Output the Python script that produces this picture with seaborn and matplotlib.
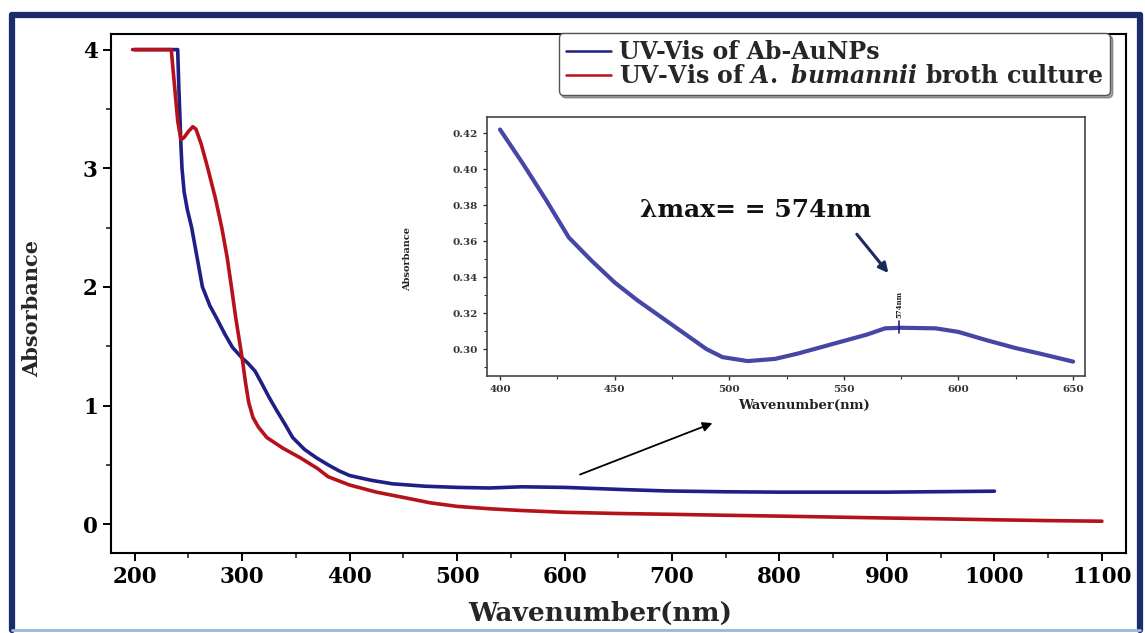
import numpy as np
import pandas as pd
import seaborn as sns
import matplotlib.pyplot as plt
from matplotlib.lines import Line2D
from matplotlib.ticker import MultipleLocator

# UV-Vis of Ab-AuNPs (blue)
aunp_nm = [200, 238, 240, 241, 243, 244, 246, 249, 253, 258, 263, 270, 276, 284, 291, 300,
           305, 312, 318, 325, 332, 340, 347, 358, 369, 380, 390, 400, 420, 440, 470, 500,
           530, 560, 600, 630, 660, 695, 750, 800, 850, 900, 950, 1000]
aunp_abs = [4.0, 4.0, 4.0, 3.7, 3.2, 3.0, 2.8, 2.65, 2.5, 2.25, 2.0, 1.84, 1.74, 1.6, 1.49, 1.40,
            1.36, 1.29, 1.19, 1.07, 0.96, 0.84, 0.73, 0.63, 0.56, 0.50, 0.45, 0.41, 0.37, 0.34, 0.32, 0.31,
            0.305, 0.315, 0.31, 0.30, 0.29, 0.28, 0.273, 0.27, 0.27, 0.27, 0.274, 0.278]

# UV-Vis of A. bumannii broth culture (red)
broth_nm = [198, 234, 236, 238, 240, 243, 246, 250, 254, 257, 262, 268, 275, 281, 286, 290,
            294, 297, 300, 303, 306, 310, 315, 323, 338, 354, 370, 380, 400, 425, 453, 475, 500,
            530, 560, 600, 650, 700, 750, 800, 850, 900, 950, 1000, 1050, 1100]
broth_abs = [4.0, 4.0, 3.8, 3.6, 3.4, 3.24, 3.26, 3.31, 3.35, 3.33, 3.2, 3.0, 2.75, 2.5, 2.25, 2.0,
             1.74, 1.57, 1.40, 1.20, 1.03, 0.90, 0.82, 0.73, 0.64, 0.56, 0.47, 0.40, 0.33, 0.27, 0.22, 0.18, 0.15,
             0.13, 0.115, 0.10, 0.09, 0.083, 0.075, 0.068, 0.06, 0.052, 0.045, 0.037, 0.03, 0.025]

# inset: Ab-AuNPs, 400-650 nm
inset_nm = [400, 410, 420, 430, 440, 450, 460, 470, 480, 490, 497, 508, 520, 530, 540, 550,
            560, 568, 575, 590, 600, 612, 625, 637, 650]
inset_abs = [0.422, 0.403, 0.383, 0.362, 0.349, 0.337, 0.327, 0.318, 0.309, 0.300, 0.2955, 0.2933,
             0.2945, 0.2975, 0.301, 0.3045, 0.308, 0.3115, 0.3118, 0.3115, 0.3095, 0.305, 0.3005,
             0.297, 0.293]
lam_max = 574

main_x_ticks = [200, 300, 400, 500, 600, 700, 800, 900, 1000, 1100]
main_y_ticks = [0, 1, 2, 3, 4]
inset_x_ticks = [400, 450, 500, 550, 600, 650]
inset_y_ticks = [0.30, 0.32, 0.34, 0.36, 0.38, 0.40, 0.42]

BLUE = "#1f1f85"
RED = "#b5121b"
INSET_BLUE = "#4646a6"

sns.set_style("ticks")
plt.rcParams["font.family"] = ["DejaVu Serif"]
plt.rcParams["font.weight"] = "bold"
plt.rcParams["axes.labelweight"] = "bold"
plt.rcParams["mathtext.fontset"] = "custom"
plt.rcParams["mathtext.rm"] = "DejaVu Serif:bold"
plt.rcParams["mathtext.it"] = "DejaVu Serif:italic:bold"

df_aunp = pd.DataFrame({"nm": aunp_nm, "abs": aunp_abs})
df_broth = pd.DataFrame({"nm": broth_nm, "abs": broth_abs})
df_inset = pd.DataFrame({"nm": inset_nm, "abs": inset_abs})

fig = plt.figure(figsize=(11.45, 6.33), dpi=100)
ax = fig.add_axes([0.097, 0.126, 0.886, 0.820])

sns.lineplot(data=df_aunp, x="nm", y="abs", ax=ax, color=BLUE, lw=2.6, sort=False,
             estimator=None, label="UV-Vis of Ab-AuNPs")
sns.lineplot(data=df_broth, x="nm", y="abs", ax=ax, color=RED, lw=2.6, sort=False,
             estimator=None, label=r"UV-Vis of $\mathit{A.}$ $\mathit{bumannii}$ broth culture")

ax.set_xlim(178, 1122)
ax.set_ylim(-0.245, 4.13)
ax.set_xticks(main_x_ticks)
ax.set_yticks(main_y_ticks)
ax.xaxis.set_minor_locator(MultipleLocator(50))
ax.yaxis.set_minor_locator(MultipleLocator(0.5))
ax.tick_params(which="major", direction="out", length=6, width=1.4, labelsize=15.5, colors="black")
ax.tick_params(which="minor", direction="out", length=3.5, width=1.2)
for s in ax.spines.values():
    s.set_linewidth(1.5)
    s.set_color("black")

ax.set_xlabel("Wavenumber(nm)", fontsize=19, fontweight="bold")
ax.xaxis.set_label_coords(0.482, -0.092)
ax.set_ylabel("Absorbance", fontsize=15, fontweight="bold")
ax.yaxis.set_label_coords(-0.068, 0.472)

leg = ax.legend(loc="upper right", bbox_to_anchor=(0.9694, 0.948), bbox_transform=fig.transFigure,
                fontsize=17, frameon=True, fancybox=True, shadow=True, framealpha=1,
                edgecolor="#555555", handlelength=1.9, handletextpad=0.35, borderpad=0.3,
                labelspacing=0.0, borderaxespad=0)
for line in leg.get_lines():
    line.set_linewidth(1.8)

ax.annotate("", xy=(740, 0.86), xytext=(612, 0.41),
            arrowprops=dict(arrowstyle="-|>", color="black", lw=1.3, mutation_scale=14))

# inset
ax_in = fig.add_axes([0.4253, 0.406, 0.5223, 0.409])
sns.lineplot(data=df_inset, x="nm", y="abs", ax=ax_in, color=INSET_BLUE, lw=3, sort=False,
             estimator=None, legend=False)
ax_in.set_xlim(394.3, 655.2)
ax_in.set_ylim(0.285, 0.4289)
ax_in.set_xticks(inset_x_ticks)
ax_in.set_yticks(inset_y_ticks)
ax_in.set_yticklabels([f"{v:.2f}" for v in inset_y_ticks])
ax_in.xaxis.set_minor_locator(MultipleLocator(25))
ax_in.yaxis.set_minor_locator(MultipleLocator(0.01))
ax_in.tick_params(which="major", direction="out", length=3, width=1, labelsize=7.5, colors="#333333")
ax_in.tick_params(which="minor", direction="out", length=2, width=0.8, colors="#333333")
for s in ax_in.spines.values():
    s.set_linewidth(1.2)
    s.set_color("#444444")
ax_in.set_xlabel("Wavenumber(nm)", fontsize=9.5, fontweight="bold", color="#222222")
ax_in.xaxis.set_label_coords(0.53, -0.09)
ax_in.set_ylabel("Absorbance", fontsize=7, fontweight="bold", color="#222222")
ax_in.yaxis.set_label_coords(-0.125, 0.45)

peak_y = np.interp(lam_max, inset_nm, inset_abs)
ax_in.plot([lam_max, lam_max], [peak_y - 0.003, peak_y + 0.004], color=BLUE, lw=1.2)
ax_in.text(lam_max, peak_y + 0.0055, f"{lam_max}nm", rotation=90, ha="center", va="bottom",
           fontsize=5, color="#222222")
ax_in.text(461, 0.377, f"\u03bbmax= = {lam_max}nm", fontsize=18, fontweight="bold",
           ha="left", va="center", color="#111111")
ax_in.annotate("", xy=(570.2, 0.341), xytext=(554.9, 0.365),
               arrowprops=dict(arrowstyle="-|>", color="#1a2a5a", lw=2.2, mutation_scale=14))

# outer frame of the picture
fx0, fx1, fy0, fy1 = 12 / 1145, 1140 / 1145, 3 / 633, 618 / 633
fig.add_artist(Line2D([fx0, fx0], [fy0, fy1], transform=fig.transFigure, color="#1b2c6b", lw=4.5))
fig.add_artist(Line2D([fx0, fx1], [fy1, fy1], transform=fig.transFigure, color="#1b2c6b", lw=4.5))
fig.add_artist(Line2D([fx1, fx1], [fy0, fy1], transform=fig.transFigure, color="#1b2c6b", lw=4.5))
fig.add_artist(Line2D([fx0, fx1], [fy0, fy0], transform=fig.transFigure, color="#9bb8dd", lw=2))

fig.savefig("out.png", dpi=100)
